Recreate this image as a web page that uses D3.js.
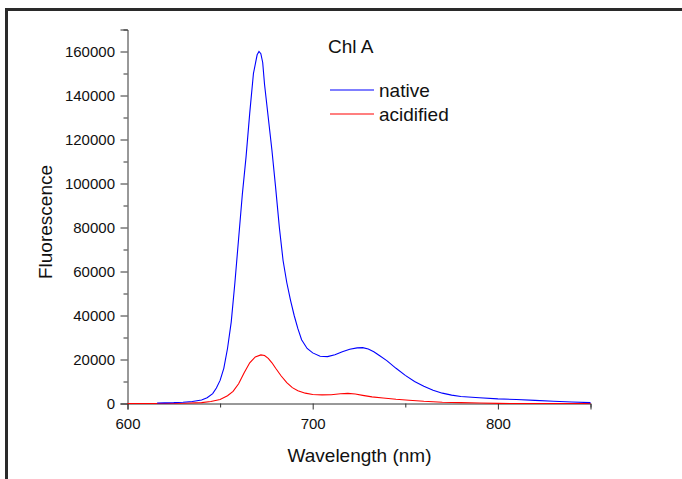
<!DOCTYPE html>
<html><head><meta charset="utf-8">
<script src="https://cdn.jsdelivr.net/npm/d3@7"></script>
<style>body{margin:0;background:#fff}svg{display:block}text{font-family:"Liberation Sans",Arial,sans-serif;fill:#111}</style>
</head><body>
<svg id="c" width="682" height="479"></svg>
<script>
const nativeWl = [616,620,625,630,635,640,643,646,648,650,652,654,656,658,660,662,664,666,668,670,671,672,673,674,676,678,680,682,684,686,688,690,692,694,697,700,704,708,712,716,720,724,727,730,733,736,740,745,750,755,760,765,770,775,780,790,800,810,820,830,840,850];
const nativeVal = [200,300,400,600,900,1600,2600,4500,7000,10500,16000,25000,37000,55000,75000,95000,112000,132000,150000,158500,160000,159000,155000,145000,130000,115000,98000,80000,65000,55000,47000,40000,34000,29000,25000,23000,21500,21300,22200,23500,24700,25300,25400,24800,23500,21800,19500,16000,12800,10000,7800,6000,4700,3800,3200,2600,2100,1800,1400,1000,700,400];
const acidWl = [600,620,630,640,645,650,654,657,660,663,666,669,672,674,676,678,680,683,686,689,692,696,700,705,710,715,719,723,727,732,738,745,752,760,770,780,790,800,810,850];
const acidVal = [0,0,100,400,900,1800,3500,5500,9000,14000,18500,21200,22100,21800,20500,18500,16000,12500,9500,7200,5800,4700,4100,3900,4000,4400,4600,4300,3700,3000,2500,1900,1500,1000,600,400,200,50,0,0];
const xMajor = [600,700,800];
const xMinor = [650,750,850];
const yMajor = [0,20000,40000,60000,80000,100000,120000,140000,160000];
const yMinor = [10000,30000,50000,70000,90000,110000,130000,150000,170000];
const seriesNames = ["native","acidified"];
const seriesColors = ["#0000ff","#ff0000"];
const chartTitle = "Chl A";

const svg = d3.select("#c");
// frame
svg.append("path").attr("d","M6.5,479 L6.5,9.5 L682,9.5").attr("fill","none").attr("stroke","#2a2a2a").attr("stroke-width",3);

const x = d3.scaleLinear().domain([600,850]).range([127.5,590.5]);
const y = d3.scaleLinear().domain([0,170000]).range([403.5,29.5]);

const axisColor = "#333";
const gx = svg.append("g").attr("transform","translate(0,403.5)");
gx.call(d3.axisBottom(x).tickValues(xMajor).tickSize(6).tickPadding(4).tickFormat(d3.format("d")));
const gxm = gx.append("g").call(d3.axisBottom(x).tickValues(xMinor).tickSize(4).tickFormat(""));
gxm.select(".domain").remove();
const gy = svg.append("g").attr("transform","translate(127.5,0)");
gy.call(d3.axisLeft(y).tickValues(yMajor).tickSize(7).tickPadding(4).tickFormat(d3.format("d")));
const gym = gy.append("g").call(d3.axisLeft(y).tickValues(yMinor).tickSize(4).tickFormat(""));
gym.select(".domain").remove();
svg.selectAll(".domain").attr("stroke",axisColor);
svg.selectAll(".tick line").attr("stroke",axisColor);
svg.selectAll(".tick text").attr("font-size",15).attr("font-family","Liberation Sans, Arial, sans-serif").attr("fill","#111");
gy.selectAll("g.tick text").attr("x",-12.5);
gx.selectAll("g.tick text").attr("y",25).attr("dy",0);

const line = d3.line().x(d=>x(d[0])).y(d=>y(d[1]));
const acid = acidWl.map((w,i)=>[w,acidVal[i]]);
const nat = nativeWl.map((w,i)=>[w,nativeVal[i]]);
svg.append("path").datum(acid).attr("d",line).attr("fill","none").attr("stroke",seriesColors[1]).attr("stroke-width",1.1);
svg.append("path").datum(nat).attr("d",line).attr("fill","none").attr("stroke",seriesColors[0]).attr("stroke-width",1.1);

// titles
svg.append("text").attr("x",359.5).attr("y",461.5).attr("text-anchor","middle").attr("font-size",19).text("Wavelength (nm)");
svg.append("text").attr("transform","translate(52,222) rotate(-90)").attr("text-anchor","middle").attr("font-size",19).text("Fluorescence");
svg.append("text").attr("x",328).attr("y",52.5).attr("font-size",19).text(chartTitle);

// legend
const legY = [90,114];
seriesNames.forEach((n,i)=>{
  svg.append("line").attr("x1",330).attr("x2",374).attr("y1",legY[i]).attr("y2",legY[i]).attr("stroke",seriesColors[i]).attr("stroke-width",1.1);
  svg.append("text").attr("x",379).attr("y",legY[i]+6.5).attr("font-size",19).text(n);
});
</script>
</body></html>
